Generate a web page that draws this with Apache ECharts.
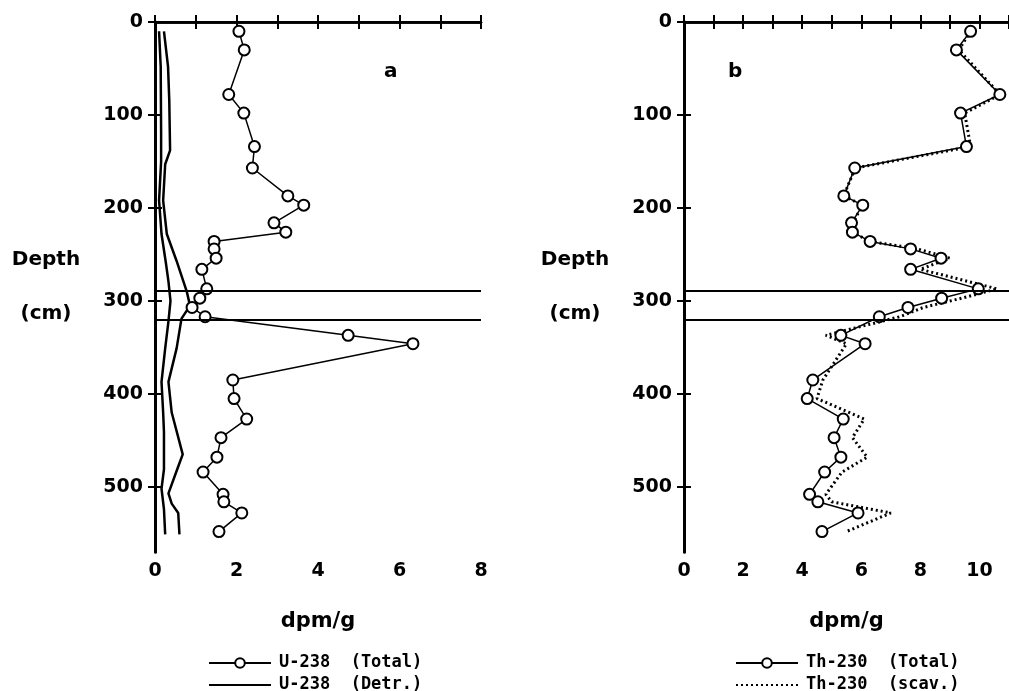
<!DOCTYPE html>
<html>
<head>
<meta charset="utf-8">
<script src="https://cdn.jsdelivr.net/npm/echarts@6.0.0/dist/echarts.min.js"></script>
<style>
  html, body { margin: 0; padding: 0; background: #fff; }
  #chart { width: 1009px; height: 691px; }
</style>
</head>
<body>
<div id="chart"></div>
<script>
// sample depths (cm), shared by both panels
var depth = [10, 30, 78, 98, 134, 157, 187, 197, 216, 226, 236, 244, 254, 266, 287, 297, 307, 317,
  337, 346, 385, 405, 427, 447, 468, 484, 508, 516, 528, 548];

// panel a
var u238Total = [2.06, 2.19, 1.81, 2.18, 2.44, 2.39, 3.26, 3.65, 2.92, 3.21, 1.45, 1.45, 1.50, 1.15,
  1.27, 1.10, 0.91, 1.23, 4.74, 6.33, 1.91, 1.94, 2.25, 1.62, 1.52, 1.18, 1.67, 1.69, 2.13, 1.57];
var detrInnerDepth = [10, 48, 120, 150, 192, 228, 260, 279, 300, 322, 351, 387, 420, 441, 481, 502, 524, 551];
var detrInner = [0.10, 0.14, 0.15, 0.15, 0.10, 0.16, 0.27, 0.33, 0.38, 0.33, 0.25, 0.16, 0.20, 0.22, 0.22, 0.16, 0.22, 0.25];
var detrOuterDepth = [10, 48, 84, 138, 153, 192, 228, 257, 290, 305, 319, 351, 387, 420, 465, 478, 507, 518, 528, 551];
var detrOuter = [0.22, 0.32, 0.35, 0.37, 0.25, 0.20, 0.29, 0.53, 0.78, 0.86, 0.65, 0.53, 0.33, 0.41, 0.68, 0.57, 0.33, 0.41, 0.57, 0.60];

// panel b
var th230Total = [9.70, 9.22, 10.69, 9.36, 9.56, 5.78, 5.41, 6.05, 5.67, 5.70, 6.30, 7.67, 8.70, 7.67,
  9.96, 8.72, 7.58, 6.61, 5.31, 6.13, 4.36, 4.17, 5.39, 5.08, 5.31, 4.76, 4.25, 4.53, 5.89, 4.67];
var th230Scav = [9.7, 9.3, 10.7, 9.5, 9.7, 5.8, 5.4, 6.05, 5.7, 5.7, 6.3, 7.9, 9.0, 8.0,
  10.6, 9.4, 8.1, 7.3, 4.8, 5.5, 4.7, 4.5, 6.1, 5.7, 6.2, 5.35, 4.8, 5.0, 7.0, 5.5];

// horizontal marker depths
var bands = [289, 320];

var yTicks = [0, 100, 200, 300, 400, 500];
var xLabelsA = [0, 2, 4, 6, 8];
var xLabelsB = [0, 2, 4, 6, 8, 10];

var FONT = "'DejaVu Sans', sans-serif";
var MONO = "'DejaVu Sans Mono', monospace";

function pairs(xs, ys) {
  return xs.map(function (v, i) { return [v, ys[i]]; });
}

function xAxes(grid, max, labels) {
  var list = [];
  [['bottom', false], ['bottom', true], ['top', false], ['top', true]].forEach(function (p, k) {
    list.push({
      type: 'value', gridIndex: grid, position: p[0], min: 0, max: max, interval: 1,
      axisLine: { lineStyle: { color: '#000', width: p[0] == 'bottom' ? 2.5 : 2 } },
      axisTick: { inside: p[1], length: 7, lineStyle: { color: '#000', width: 2 } },
      axisLabel: {
        show: k == 0, customValues: labels, margin: 10,
        color: '#000', fontFamily: FONT, fontWeight: 'bold', fontSize: 19
      },
      splitLine: { show: false },
      name: k == 0 ? 'dpm/g' : '',
      nameLocation: 'middle', nameGap: 59,
      nameTextStyle: { color: '#000', fontFamily: FONT, fontWeight: 'bold', fontSize: 21 }
    });
  });
  return list;
}

function yAxes(grid) {
  var list = [];
  [['left', false], ['left', true], ['right', false], ['right', true]].forEach(function (p, k) {
    list.push({
      type: 'value', gridIndex: grid, position: p[0], inverse: true,
      min: 0, max: 570, interval: 100,
      axisLine: { lineStyle: { color: '#000', width: p[0] == 'left' ? 3 : 2 } },
      axisTick: { inside: p[1], length: 7, customValues: yTicks, lineStyle: { color: '#000', width: 2 } },
      axisLabel: {
        show: k == 0, customValues: yTicks, margin: 12,
        color: '#000', fontFamily: FONT, fontWeight: 'bold', fontSize: 19
      },
      splitLine: { show: false },
      name: k == 0 ? 'Depth\n\n(cm)' : '',
      nameLocation: 'middle', nameRotate: 0, nameGap: 109,
      nameTextStyle: {
        color: '#000', fontFamily: FONT, fontWeight: 'bold', fontSize: 20,
        lineHeight: 27, align: 'center', verticalAlign: 'middle'
      }
    });
  });
  return list;
}

// legend icons for the plain and dotted lines
var solidIcon = 'path://M0,0 L62,0 L62,2 L0,2 Z';
var dotIcon = 'path://';
for (var i = 0; i <= 60; i += 5) dotIcon += 'M' + i + ',0 h2 v2 h-2 Z ';

var bandLine = {
  silent: true, symbol: 'none', label: { show: false },
  lineStyle: { color: '#000', width: 2, type: 'solid' },
  data: bands.map(function (d) { return { yAxis: d }; })
};

var circleLine = {
  symbol: 'emptyCircle', symbolSize: 11,
  lineStyle: { color: '#000', width: 1.5 },
  itemStyle: { color: '#000', borderColor: '#000', borderWidth: 2 }
};

var legendText = { color: '#000', fontFamily: MONO, fontWeight: 'bold', fontSize: 17, lineHeight: 20, padding: [0, 0, 0, 3] };

var chart = echarts.init(document.getElementById('chart'));

var option = {
  animation: false,
  backgroundColor: '#fff',
  title: [
    { text: 'a', left: 384, top: 62, padding: 0, textStyle: { fontFamily: FONT, fontWeight: 'bold', fontSize: 20, color: '#000' } },
    { text: 'b', left: 728, top: 62, padding: 0, textStyle: { fontFamily: FONT, fontWeight: 'bold', fontSize: 20, color: '#000' } }
  ],
  grid: [
    { left: 155, top: 22, width: 326, height: 530 },
    { left: 684, top: 22, width: 330, height: 530 }
  ],
  legend: [
    {
      data: ['U-238  (Total)', { name: 'U-238  (Detr.)', icon: solidIcon }],
      orient: 'vertical', padding: 0, width: 300, height: 80,
      left: 208, top: 653, itemWidth: 62, itemHeight: 12, itemGap: 2, textStyle: legendText
    },
    {
      data: ['Th-230  (Total)', { name: 'Th-230  (scav.)', icon: dotIcon }],
      orient: 'vertical', padding: 0, width: 300, height: 80,
      left: 735, top: 653, itemWidth: 62, itemHeight: 12, itemGap: 2, textStyle: legendText
    }
  ],
  xAxis: xAxes(0, 8, xLabelsA).concat(xAxes(1, 11, xLabelsB)),
  yAxis: yAxes(0).concat(yAxes(1)),
  series: [
    {
      name: 'U-238  (Detr.)', type: 'line', xAxisIndex: 0, yAxisIndex: 0,
      data: pairs(detrInner, detrInnerDepth), symbol: 'none',
      lineStyle: { color: '#000', width: 2.5 }, itemStyle: { color: '#000' },
      markLine: bandLine
    },
    {
      name: 'U-238  (Detr.)', type: 'line', xAxisIndex: 0, yAxisIndex: 0,
      data: pairs(detrOuter, detrOuterDepth), symbol: 'none',
      lineStyle: { color: '#000', width: 2.5 }, itemStyle: { color: '#000' }
    },
    Object.assign({
      name: 'U-238  (Total)', type: 'line', xAxisIndex: 0, yAxisIndex: 0,
      data: pairs(u238Total, depth)
    }, circleLine),
    {
      name: 'Th-230  (scav.)', type: 'line', xAxisIndex: 4, yAxisIndex: 4,
      data: pairs(th230Scav, depth), symbol: 'none',
      lineStyle: { color: '#000', width: 3, type: [2, 3] }, itemStyle: { color: '#000' },
      markLine: bandLine
    },
    Object.assign({
      name: 'Th-230  (Total)', type: 'line', xAxisIndex: 4, yAxisIndex: 4,
      data: pairs(th230Total, depth)
    }, circleLine)
  ]
};

chart.setOption(option);
</script>
</body>
</html>
